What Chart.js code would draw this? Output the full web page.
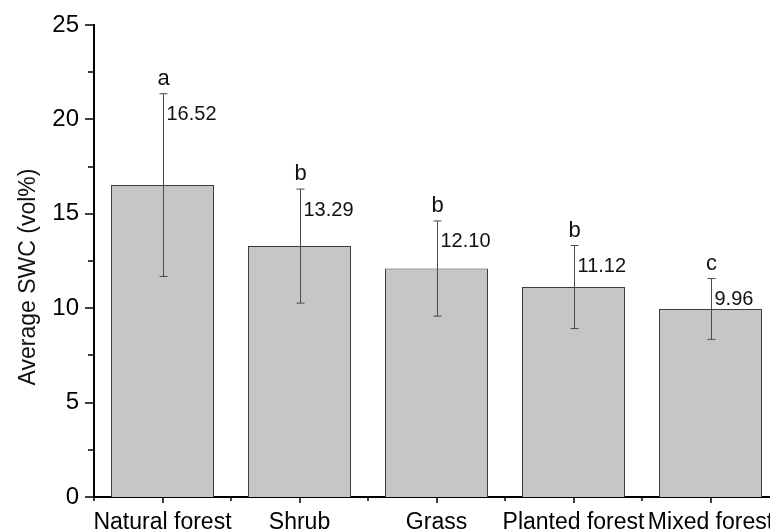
<!DOCTYPE html>
<html>
<head>
<meta charset="utf-8">
<script src="https://cdn.jsdelivr.net/npm/chart.js@4.4.1/dist/chart.umd.min.js"></script>
<style>
  html, body { margin: 0; padding: 0; background: #fff; overflow: hidden; }
  #wrap { width: 790px; height: 532px; }
</style>
</head>
<body>
<div id="wrap"><canvas id="chart" width="790" height="532"></canvas></div>
<script>
const categories = ["Natural forest", "Shrub", "Grass", "Planted forest", "Mixed forest"];
const swcMean = [16.52, 13.29, 12.10, 11.12, 9.96];
const swcSd = [4.84, 3.02, 2.52, 2.20, 1.61];
const groupLetters = ["a", "b", "b", "b", "c"];
const valueLabels = ["16.52", "13.29", "12.10", "11.12", "9.96"];
const yMajorTicks = [0, 5, 10, 15, 20, 25];
const yMinorTicks = [2.5, 7.5, 12.5, 17.5, 22.5];

const FONT = "'Liberation Sans', Arial, sans-serif";

// error bars, labels, tick marks and the y title
const decorations = {
  id: "decorations",
  afterDatasetsDraw(chart) {
    const { ctx, scales: { x, y } } = chart;
    ctx.save();

    // error bars
    ctx.strokeStyle = "#4a4a4a";
    ctx.lineWidth = 1;
    swcMean.forEach((m, i) => {
      const px = Math.round(x.getPixelForValue(i)) + 0.5;
      const top = y.getPixelForValue(m + swcSd[i]);
      const bot = y.getPixelForValue(m - swcSd[i]);
      ctx.beginPath();
      ctx.moveTo(px, top); ctx.lineTo(px, bot);
      ctx.moveTo(px - 4, top); ctx.lineTo(px + 4, top);
      ctx.moveTo(px - 4, bot); ctx.lineTo(px + 4, bot);
      ctx.stroke();

      ctx.fillStyle = "#111";
      ctx.font = `20px ${FONT}`;
      ctx.textAlign = "left";
      ctx.textBaseline = "middle";
      ctx.fillText(valueLabels[i], px + 3, top + 21);

      ctx.font = `22px ${FONT}`;
      ctx.textAlign = "center";
      ctx.textBaseline = "alphabetic";
      ctx.fillText(groupLetters[i], px, top - 9);
    });

    // tick marks
    ctx.strokeStyle = "#000";
    ctx.lineWidth = 1.5;
    const ax = x.left;
    ctx.beginPath();
    yMajorTicks.forEach(v => {
      const py = Math.round(y.getPixelForValue(v));
      ctx.moveTo(ax, py); ctx.lineTo(ax - 9, py);
    });
    yMinorTicks.forEach(v => {
      const py = Math.round(y.getPixelForValue(v));
      ctx.moveTo(ax, py); ctx.lineTo(ax - 6, py);
    });
    const ay = y.bottom;
    categories.forEach((c, i) => {
      const px = Math.round(x.getPixelForValue(i));
      ctx.moveTo(px, ay); ctx.lineTo(px, ay + 6);
      const edge = Math.round(x.getPixelForValue(i - 0.5));
      ctx.moveTo(edge, ay); ctx.lineTo(edge, ay + 4);
    });
    ctx.stroke();

    // y title
    ctx.fillStyle = "#111";
    ctx.font = `23px ${FONT}`;
    ctx.translate(35, 277);
    ctx.rotate(-Math.PI / 2);
    ctx.textAlign = "center";
    ctx.textBaseline = "alphabetic";
    ctx.fillText("Average SWC (vol%)", 0, 0);
    ctx.restore();
  }
};

new Chart(document.getElementById("chart"), {
  type: "bar",
  data: {
    labels: categories,
    datasets: [{
      data: swcMean,
      backgroundColor: "#c6c6c6",
      borderColor: "#3c3c3c",
      borderWidth: 1,
      barPercentage: 0.752,
      categoryPercentage: 1.0,
    }],
  },
  options: {
    responsive: false,
    animation: false,
    layout: { padding: { top: 25, right: 11, left: 0, bottom: 0 } },
    plugins: { legend: { display: false }, tooltip: { enabled: false } },
    scales: {
      x: {
        grid: { display: false, drawTicks: false },
        border: { display: true, color: "#000", width: 2 },
        ticks: {
          color: "#000",
          font: { family: FONT, size: 23 },
          padding: 12,
          maxRotation: 0,
          autoSkip: false,
        },
        afterFit: (scale) => { scale.height = 35; },
      },
      y: {
        min: 0,
        max: 25,
        grid: { display: false, drawTicks: false },
        border: { display: true, color: "#000", width: 2 },
        ticks: {
          stepSize: 5,
          color: "#000",
          font: { family: FONT, size: 24 },
          padding: 15,
        },
        afterFit: (scale) => {
          scale.width = 94;
          scale.paddingTop = 0;
          scale.paddingBottom = 0;
        },
      },
    },
  },
  plugins: [decorations],
});
</script>
</body>
</html>
